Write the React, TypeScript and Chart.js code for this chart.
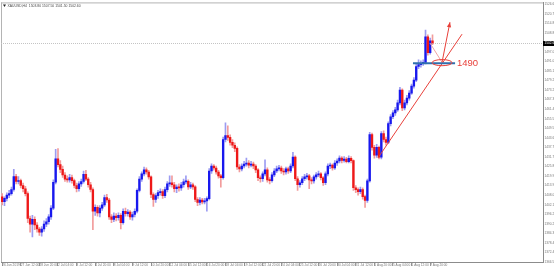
import React, { useEffect, useRef } from 'react';
import { Chart, registerables } from 'chart.js';

Chart.register(...registerables);

// ---- data (XAUUSD, H4) ----
const opens = [
  1407, 1404, 1406, 1408, 1409, 1411.5, 1419.5, 1416.5, 1417, 1414,
  1412, 1409, 1393.5, 1390, 1393, 1389.5, 1387, 1385, 1387, 1390,
  1391.5, 1394.5, 1400, 1416, 1430.5, 1427, 1424, 1420.5, 1418, 1417.5,
  1419, 1417, 1414, 1412, 1415, 1416.5, 1421, 1418, 1414.5, 1411.5,
  1398, 1400.5, 1397, 1400, 1402, 1406.5, 1405, 1394.5, 1393, 1395,
  1394, 1395.5, 1391, 1398, 1396.5, 1397.5, 1394.5, 1396, 1398, 1411,
  1418, 1421.2, 1423.7, 1422.4, 1419.4, 1408.4, 1405.3, 1407.7, 1409.6, 1410.2,
  1407.7, 1411.4, 1415, 1415.7, 1414.5, 1412, 1413, 1412.5, 1414.5, 1416.3,
  1416.6, 1413.2, 1414.4, 1413.2, 1405.3, 1403.5, 1405, 1403.8, 1404.5, 1405.9,
  1423, 1426.1, 1424.9, 1422.4, 1420, 1418.8, 1442.6, 1445, 1443.9, 1440.8,
  1439, 1437.1, 1425.5, 1424.3, 1426.1, 1427.3, 1428, 1426.7, 1427.3, 1426.1,
  1423.7, 1418.8, 1418.2, 1421.2, 1423.7, 1417.5, 1417, 1420.6, 1423, 1424.3,
  1424.9, 1423, 1422.4, 1424.3, 1423, 1426.1, 1431.6, 1418.2, 1414.5, 1415.7,
  1418.2, 1419.4, 1420, 1417.5, 1416.9, 1419.4, 1420.6, 1421.2, 1418.8, 1415.7,
  1421.2, 1426.1, 1426.7, 1424.9, 1428, 1429.2, 1431, 1429.6, 1430.4, 1428.8,
  1430.9, 1429.5, 1412.6, 1411.4, 1410.2, 1411.4, 1407.1, 1404.7, 1416.9, 1445.7,
  1437.7, 1432.8, 1437.7, 1431.6, 1446.3, 1442.6, 1440.8, 1452.4, 1456.7, 1459.1,
  1461, 1465.3, 1473.2, 1462.2, 1465.3, 1468.3, 1471.4, 1475.7, 1479.4, 1487.9,
  1489.1, 1489.8, 1490.4, 1506.3, 1496.5, 1503.8,
];
const closes = [
  1404, 1406, 1408, 1409, 1411.5, 1419.5, 1416.5, 1417, 1414, 1412,
  1409, 1393.5, 1390, 1393, 1389.5, 1387, 1385, 1387, 1390, 1391.5,
  1394.5, 1400, 1416, 1430.5, 1427, 1424, 1420.5, 1418, 1417.5, 1419,
  1417, 1414, 1412, 1415, 1416.5, 1421, 1418, 1414.5, 1411.5, 1398,
  1400.5, 1397, 1400, 1402, 1406.5, 1405, 1394.5, 1393, 1395, 1394,
  1395.5, 1391, 1398, 1396.5, 1397.5, 1394.5, 1396, 1398, 1411, 1418,
  1421.2, 1423.7, 1422.4, 1419.4, 1408.4, 1405.3, 1407.7, 1409.6, 1410.2, 1407.7,
  1411.4, 1415, 1415.7, 1414.5, 1412, 1413, 1412.5, 1414.5, 1416.3, 1416.6,
  1413.2, 1414.4, 1413.2, 1405.3, 1403.5, 1405, 1403.8, 1404.5, 1405.9, 1423,
  1426.1, 1424.9, 1422.4, 1420, 1418.8, 1442.6, 1445, 1443.9, 1440.8, 1439,
  1437.1, 1425.5, 1424.3, 1426.1, 1427.3, 1428, 1426.7, 1427.3, 1426.1, 1423.7,
  1418.8, 1418.2, 1421.2, 1423.7, 1417.5, 1417, 1420.6, 1423, 1424.3, 1424.9,
  1423, 1422.4, 1424.3, 1423, 1426.1, 1431.6, 1418.2, 1414.5, 1415.7, 1418.2,
  1419.4, 1420, 1417.5, 1416.9, 1419.4, 1420.6, 1421.2, 1418.8, 1415.7, 1421.2,
  1426.1, 1426.7, 1424.9, 1428, 1429.2, 1431, 1429.6, 1430.4, 1428.8, 1430.9,
  1429.5, 1412.6, 1411.4, 1410.2, 1411.4, 1407.1, 1404.7, 1416.9, 1445.7, 1437.7,
  1432.8, 1437.7, 1431.6, 1446.3, 1442.6, 1440.8, 1452.4, 1456.7, 1459.1, 1461,
  1465.3, 1473.2, 1462.2, 1465.3, 1468.3, 1471.4, 1475.7, 1479.4, 1487.9, 1489.1,
  1489.8, 1490.4, 1506.3, 1496.5, 1503.8, 1502.6,
];
const highs = [
  1409, 1407, 1409.5, 1411, 1413, 1424, 1421, 1419.5, 1418, 1415.5,
  1413.5, 1410, 1395, 1395.5, 1394.5, 1391, 1388, 1388.5, 1392, 1393.5,
  1396, 1401.5, 1417.5, 1436.5, 1437, 1429.5, 1426, 1422, 1420, 1421,
  1420.5, 1418, 1415.5, 1416.5, 1418, 1423, 1423.5, 1419, 1416, 1412.5,
  1402, 1401.5, 1401.5, 1403.5, 1408, 1408.5, 1406, 1396, 1397, 1396.5,
  1397, 1396.5, 1399.5, 1400, 1399, 1398.5, 1397.5, 1399.5, 1412, 1419.5,
  1422.5, 1425.5, 1425, 1423.5, 1420, 1409.5, 1409, 1411, 1412, 1411.5,
  1413, 1416.5, 1420, 1420, 1416, 1414.5, 1415, 1416, 1418, 1420,
  1417.5, 1416, 1415.5, 1414, 1406.5, 1406.5, 1406, 1406, 1407, 1424.5,
  1427.5, 1427, 1426, 1423.5, 1421, 1444, 1453, 1451, 1445.5, 1442.5,
  1440.5, 1438, 1427, 1427.5, 1429, 1431, 1429.5, 1429, 1428.5, 1427,
  1424.5, 1420, 1422.5, 1430, 1425, 1419, 1422, 1424.5, 1426, 1426.5,
  1426, 1424.5, 1425.5, 1425.5, 1427.5, 1434.6, 1432.5, 1419.5, 1417, 1419.5,
  1421, 1421.5, 1421, 1419, 1420.5, 1422, 1423, 1422, 1419.5, 1422.5,
  1427.5, 1428, 1427.5, 1429.5, 1430.5, 1432.5, 1432, 1432, 1431.5, 1432.5,
  1432, 1430, 1414, 1412.5, 1413, 1412.5, 1408, 1418, 1447, 1446.5,
  1439, 1439.5, 1438.5, 1447.5, 1448, 1444, 1453.5, 1458, 1460.5, 1462.5,
  1467, 1475, 1474, 1467, 1470, 1473, 1477, 1481, 1489.5, 1492,
  1491.5, 1492, 1510.6, 1507.5, 1505.5, 1507.5,
];
const lows = [
  1402, 1401.5, 1404.5, 1406.5, 1408, 1410.5, 1415, 1415, 1412.5, 1410,
  1407.5, 1391, 1385, 1382, 1386.5, 1385, 1383, 1382.5, 1385.5, 1388.5,
  1390, 1393, 1399, 1415, 1425.5, 1422, 1419, 1416.5, 1416, 1416,
  1415.5, 1412.5, 1410, 1410.5, 1413.5, 1415.5, 1417, 1413, 1410, 1386.5,
  1395.5, 1395, 1394.5, 1398.5, 1401, 1403.5, 1393, 1391, 1391.5, 1392,
  1392.5, 1387, 1390, 1395, 1395, 1393, 1392.5, 1394.5, 1397, 1410,
  1416.5, 1420, 1421, 1418, 1406.5, 1401, 1403.5, 1406, 1408, 1406,
  1406.5, 1410, 1413.5, 1413, 1410, 1409.5, 1410.5, 1411, 1413, 1415,
  1411.5, 1412, 1411.5, 1404, 1401.5, 1402, 1402.5, 1402.5, 1398, 1405,
  1421.5, 1423.5, 1421, 1418.5, 1413, 1418, 1441, 1442, 1439, 1437.5,
  1435, 1424, 1422.5, 1423, 1425, 1426, 1425, 1425.5, 1424.5, 1422,
  1417, 1416, 1416.5, 1420, 1416, 1415, 1416, 1419.5, 1422, 1423,
  1421.5, 1420.5, 1421, 1421.5, 1422, 1425, 1417, 1411, 1413, 1414.5,
  1417, 1418, 1412, 1415, 1415.5, 1418, 1419.5, 1417.5, 1414, 1414.5,
  1420, 1424.5, 1423.5, 1424, 1426.5, 1428, 1428, 1428.5, 1428, 1428,
  1428, 1411, 1409.5, 1408, 1409, 1405.5, 1400.4, 1403.5, 1416, 1436,
  1431, 1431.5, 1430.5, 1430.5, 1441, 1439, 1440, 1451, 1455.5, 1457.5,
  1460, 1464, 1460.5, 1461, 1464, 1467, 1470.5, 1474.5, 1478.5, 1486.5,
  1487.5, 1488.5, 1489.5, 1495, 1495.5, 1501.5,
];

// one x label every 8 bars, starting at bar 0
const xTickLabels = [
  '26 Jun 2019', '27 Jun 12:00', '28 Jun 20:00', '2 Jul 04:00', '3 Jul 12:00', '4 Jul 20:00',
  '8 Jul 04:00', '9 Jul 12:00', '10 Jul 20:00', '12 Jul 04:00', '15 Jul 12:00', '16 Jul 20:00',
  '18 Jul 04:00', '19 Jul 12:00', '22 Jul 20:00', '24 Jul 04:00', '25 Jul 12:00', '26 Jul 20:00',
  '30 Jul 04:00', '31 Jul 12:00', '1 Aug 20:00', '5 Aug 04:00', '6 Aug 12:00', '7 Aug 20:00',
];
const xTickEvery = 8;
const totalSlots = 233; // bars + empty right-hand shift area

const yTickValues = [
  1526.66, 1520.73, 1514.80, 1508.87, 1497.01, 1491.08, 1485.15, 1479.22, 1473.29,
  1467.36, 1461.43, 1455.50, 1449.57, 1443.64, 1437.71, 1431.78, 1425.85, 1419.92,
  1413.99, 1408.06, 1402.13, 1396.20, 1390.27, 1384.34, 1378.41, 1372.48, 1366.55,
];
const yMin = 1366.5;
const yMax = 1527.7;
const currentPrice = 1502.6;
const titleText = 'XAUUSD,H4  1503.80 1507.50 1501.50 1502.60';

// annotation (bar index, price)
const levelPrice = 1490;
const levelLabel = '1490';
const levelFrom = 176.6;
const levelTo = 194.7;
const ellipseCenter = [189.1, 1490.3];
const ellipseHalf = [4.3, 1.9];
const trendLine = [[161.6, 1431.2], [197.7, 1508.0]];
const pullbackLine = [[183.9, 1502.5], [189.1, 1490.5]];
const arrowLine = [[189.1, 1490.5], [192.5, 1515.4]];
const labelAnchor = [195.5, 1490];

const UP = '#1818ee';
const DOWN = '#ee1818';
const UP_WICK = '#9c9cf2';
const DOWN_WICK = '#f29c9c';
const RED = '#e8403a';

const overlayPlugin = {
  id: 'overlay',
  beforeDatasetsDraw(chart: any) {
    const { ctx, chartArea: a, scales } = chart;
    const y = scales.y;
    ctx.save();
    ctx.strokeStyle = '#b4b4b4';
    ctx.lineWidth = 1;
    ctx.beginPath();
    ctx.moveTo(a.left + 0.5, a.top);
    ctx.lineTo(a.left + 0.5, a.bottom);
    ctx.moveTo(a.left, a.top + 0.5);
    ctx.lineTo(a.right, a.top + 0.5);
    ctx.stroke();
    const cy = Math.round(y.getPixelForValue(currentPrice)) + 0.5;
    ctx.setLineDash([1, 1]);
    ctx.strokeStyle = '#c4c4c4';
    ctx.beginPath();
    ctx.moveTo(a.left, cy);
    ctx.lineTo(a.right, cy);
    ctx.stroke();
    ctx.restore();
  },
  afterDatasetsDraw(chart: any) {
    const { ctx, scales } = chart;
    const x = scales.x;
    const y = scales.y;
    const px = (p: number[]) => [x.getPixelForValue(p[0]), y.getPixelForValue(p[1])];
    ctx.save();
    // trend line
    ctx.strokeStyle = RED;
    ctx.lineWidth = 1;
    const t0 = px(trendLine[0]);
    const t1 = px(trendLine[1]);
    ctx.beginPath();
    ctx.moveTo(t0[0], t0[1]);
    ctx.lineTo(t1[0], t1[1]);
    ctx.stroke();
    // pullback line
    const p0 = px(pullbackLine[0]);
    const p1 = px(pullbackLine[1]);
    ctx.strokeStyle = '#f0a4a4';
    ctx.beginPath();
    ctx.moveTo(p0[0], p0[1]);
    ctx.lineTo(p1[0], p1[1]);
    ctx.stroke();
    // level line
    const ly = y.getPixelForValue(levelPrice);
    ctx.strokeStyle = '#2f6fae';
    ctx.lineWidth = 2;
    ctx.beginPath();
    ctx.moveTo(x.getPixelForValue(levelFrom), ly);
    ctx.lineTo(x.getPixelForValue(levelTo), ly);
    ctx.stroke();
    // ellipse
    const ec = px(ellipseCenter);
    const rx = Math.abs(x.getPixelForValue(ellipseCenter[0] + ellipseHalf[0]) - ec[0]);
    const ry = Math.abs(y.getPixelForValue(ellipseCenter[1] + ellipseHalf[1]) - ec[1]);
    ctx.strokeStyle = RED;
    ctx.lineWidth = 1;
    ctx.beginPath();
    ctx.ellipse(ec[0], ec[1], rx, ry, 0, 0, Math.PI * 2);
    ctx.stroke();
    // arrow
    const a0 = px(arrowLine[0]);
    const a1 = px(arrowLine[1]);
    ctx.beginPath();
    ctx.moveTo(a0[0], a0[1]);
    ctx.lineTo(a1[0], a1[1]);
    ctx.stroke();
    const ang = Math.atan2(a1[1] - a0[1], a1[0] - a0[0]);
    const hl = 5;
    const hw = 2.2;
    ctx.fillStyle = RED;
    ctx.beginPath();
    ctx.moveTo(a1[0], a1[1]);
    ctx.lineTo(a1[0] - hl * Math.cos(ang) + hw * Math.sin(ang), a1[1] - hl * Math.sin(ang) - hw * Math.cos(ang));
    ctx.lineTo(a1[0] - hl * Math.cos(ang) - hw * Math.sin(ang), a1[1] - hl * Math.sin(ang) + hw * Math.cos(ang));
    ctx.closePath();
    ctx.fill();
    // label
    const lp = px(labelAnchor);
    ctx.fillStyle = RED;
    ctx.font = '9.5px "Liberation Sans", Arial, sans-serif';
    ctx.textAlign = 'left';
    ctx.textBaseline = 'middle';
    ctx.fillText(levelLabel, lp[0], lp[1] + 0.5);
    ctx.restore();
  },
  afterDraw(chart: any) {
    const { ctx, chartArea: a, scales, width } = chart;
    const y = scales.y;
    ctx.save();
    const cy = Math.round(y.getPixelForValue(currentPrice)) + 0.5;
    ctx.fillStyle = '#000';
    ctx.fillRect(a.right, cy - 2.5, width - a.right, 5);
    ctx.fillStyle = '#fff';
    ctx.font = '3.2px "Liberation Sans", Arial, sans-serif';
    ctx.textAlign = 'left';
    ctx.textBaseline = 'middle';
    ctx.fillText(currentPrice.toFixed(2), a.right + 1.5, cy);
    // title
    ctx.fillStyle = '#222';
    ctx.beginPath();
    ctx.moveTo(a.left + 2, a.top + 2);
    ctx.lineTo(a.left + 5, a.top + 2);
    ctx.lineTo(a.left + 3.5, a.top + 4.5);
    ctx.closePath();
    ctx.fill();
    ctx.fillStyle = '#444';
    ctx.font = '3.4px "Liberation Sans", Arial, sans-serif';
    ctx.textBaseline = 'middle';
    ctx.fillText(titleText, a.left + 6.5, a.top + 3.3);
    ctx.restore();
  },
};

export default function App() {
  const ref = useRef<HTMLCanvasElement>(null);

  useEffect(() => {
    if (!ref.current) return;
    const labels = Array.from({ length: totalSlots }, (_, i) => i);
    const isUp = closes.map((c, i) => c >= opens[i]);
    const bodies = opens.map((o, i) => [o, closes[i]]);
    const wicks = lows.map((l, i) => [l, highs[i]]);

    const chart = new Chart(ref.current, {
      type: 'bar',
      data: {
        labels,
        datasets: [
          {
            data: bodies,
            backgroundColor: isUp.map((u) => (u ? UP : DOWN)),
            barThickness: 1.7,
            minBarLength: 1,
            grouped: false,
            borderWidth: 0,
            order: 0,
          } as any,
          {
            data: wicks,
            backgroundColor: isUp.map((u) => (u ? UP_WICK : DOWN_WICK)),
            barThickness: 1,
            grouped: false,
            borderWidth: 0,
            order: 1,
          } as any,
        ],
      },
      options: {
        animation: false,
        responsive: false,
        maintainAspectRatio: false,
        layout: { padding: { left: 1, top: 1, right: 0, bottom: 0 } },
        plugins: { legend: { display: false }, tooltip: { enabled: false } },
        scales: {
          x: {
            type: 'category',
            offset: true,
            grid: { display: true, drawOnChartArea: false, offset: false, tickLength: 4, color: '#9a9a9a' },
            border: { display: true, color: '#8c8c8c' },
            ticks: {
              autoSkip: false,
              maxRotation: 0,
              minRotation: 0,
              align: 'start',
              padding: -3,
              color: '#777',
              font: { size: 3.2, family: '"Liberation Sans", Arial, sans-serif' },
              callback: (v: any) => xTickLabels[Math.round(Number(v) / xTickEvery)],
            },
            afterBuildTicks: (s: any) => {
              s.ticks = s.ticks.filter(
                (t: any) => t.value % xTickEvery === 0 && t.value / xTickEvery < xTickLabels.length,
              );
            },
            afterFit: (s: any) => {
              s.height = 6;
            },
          },
          y: {
            position: 'right',
            min: yMin,
            max: yMax,
            grid: { display: true, drawOnChartArea: false, tickLength: 1, color: '#9a9a9a' },
            border: { display: true, color: '#8c8c8c' },
            ticks: {
              padding: 0.5,
              color: '#777',
              font: { size: 3.2, family: '"Liberation Sans", Arial, sans-serif' },
              callback: (v: any) => Number(v).toFixed(2),
            },
            afterBuildTicks: (s: any) => {
              s.ticks = yTickValues.map((v) => ({ value: v }));
            },
            afterFit: (s: any) => {
              s.width = 11;
            },
          },
        },
      } as any,
      plugins: [overlayPlugin],
    });
    return () => chart.destroy();
  }, []);

  return (
    <div style={{ position: 'fixed', left: 0, top: 0, width: 554, height: 268, background: '#fff' }}>
      <canvas ref={ref} width={554} height={268} />
    </div>
  );
}
